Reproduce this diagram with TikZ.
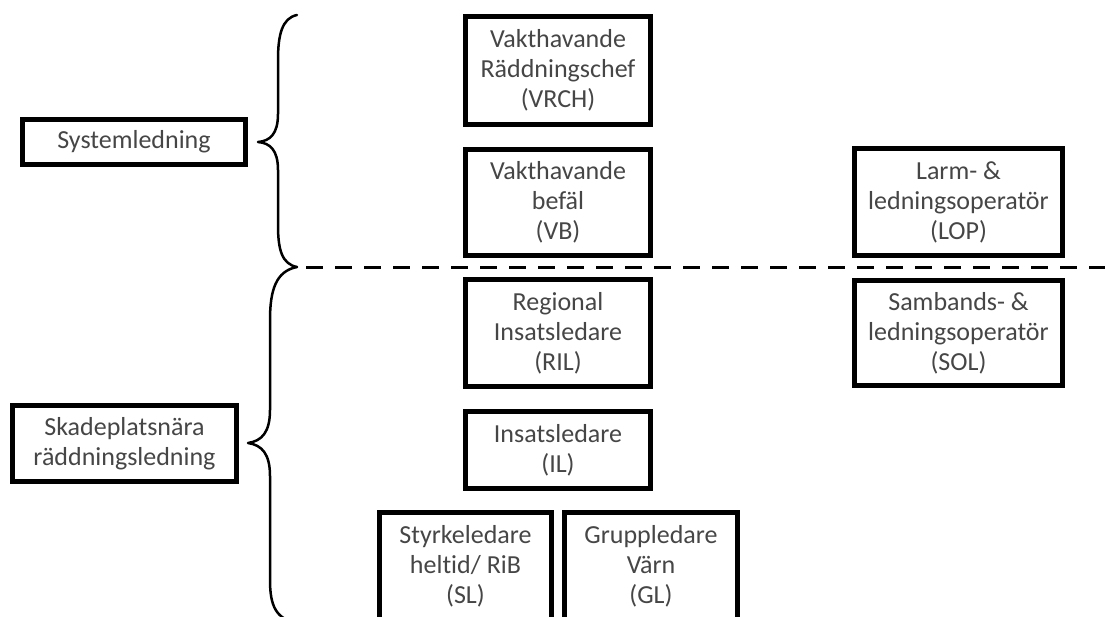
\documentclass[tikz,border=0pt]{standalone}
\usepackage{fontspec}
\setmainfont{Carlito}[Ligatures=NoCommon]
\definecolor{txtgray}{HTML}{464646}
\begin{document}
\begin{tikzpicture}[x=1pt,y=-1pt,
  box/.style={draw=black,line width=5pt,inner sep=0pt,align=center,
    text=txtgray,font=\fontsize{26}{30}\selectfont},
  bracepath/.style={line width=2.5pt,line cap=round,line join=round},
  sepline/.style={line width=3pt,dash pattern=on 17pt off 12pt}]
\useasboundingbox (0,0) rectangle (1105,616);
\clip (0,0) rectangle (1105,616);
\fill[white] (0,0) rectangle (1105,616);
% left labels
\node[box,minimum width=223pt,minimum height=45pt] (sys) at (134,142) {Systemledning};
\node[box,minimum width=224pt,minimum height=76pt] (ska) at (124.5,443.5) {Skadeplatsnära\\räddningsledning};
% centre column
\node[box,minimum width=185pt,minimum height=108pt] (vrch) at (558,70.5) {Vakthavande\\Räddningschef\\(VRCH)};
\node[box,minimum width=185pt,minimum height=106pt] (vb) at (558,202.5) {Vakthavande\\befäl\\(VB)};
\node[box,minimum width=185pt,minimum height=107pt] (ril) at (558,333) {Regional\\Insatsledare\\(RIL)};
\node[box,minimum width=185pt,minimum height=77pt] (il) at (558,450) {Insatsledare\\(IL)};
\node[box,minimum width=172pt,minimum height=107pt] (sl) at (465.5,566) {Styrkeledare\\heltid/ RiB\\(SL)};
\node[box,minimum width=173pt,minimum height=107pt] (gl) at (651,566) {Gruppledare\\Värn\\(GL)};
% right column
\node[box,minimum width=208pt,minimum height=107pt] (lop) at (958.5,202) {Larm- \&\\ledningsoperatör\\(LOP)};
\node[box,minimum width=208pt,minimum height=105pt] (sol) at (958.5,333) {Sambands- \&\\ledningsoperatör\\(SOL)};
% braces
\coordinate (b1top) at (297,15);
\coordinate (b1tip) at (258,142);
\coordinate (mid) at (297,267);
\coordinate (b2tip) at (248,443);
\coordinate (b2bot) at (297,623);
\draw[bracepath] (b1top) .. controls (282,18) and (278,35) .. (278,60) -- (278,114)
  .. controls (278,134) and (270,141) .. (b1tip)
  .. controls (270,143) and (278,150) .. (278,170) -- (278,225)
  .. controls (278,250) and (282,264) .. (mid);
\draw[bracepath] (mid) .. controls (276,271) and (270,290) .. (270,320) -- (270,410)
  .. controls (270,432) and (262,441) .. (b2tip)
  .. controls (262,445) and (270,454) .. (270,476) -- (270,580)
  .. controls (270,606) and (276,619) .. (b2bot);
% separator
\coordinate (dashstart) at (306,267);
\coordinate (dashend) at (1110,267);
\draw[sepline] (dashstart) -- (dashend);
\end{tikzpicture}
\end{document}
